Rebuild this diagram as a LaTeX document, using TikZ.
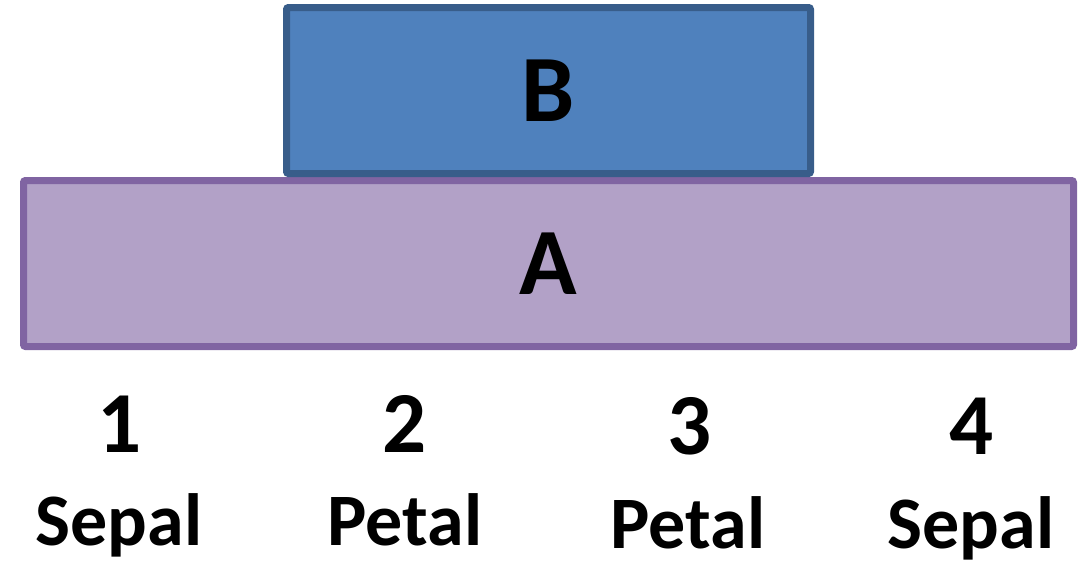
\documentclass[tikz,border=0pt]{standalone}
\usepackage{fontspec}
\setmainfont{Carlito}
\definecolor{bfill}{HTML}{4F81BD}
\definecolor{bdraw}{HTML}{385D8A}
\definecolor{afill}{HTML}{B2A1C7}
\definecolor{adraw}{HTML}{8064A2}
\tikzset{
  layer/.style={inner sep=0pt, outer sep=0pt, line width=7pt, rounded corners=2pt,
    font=\bfseries\fontsize{95}{95}\selectfont},
  numlbl/.style={anchor=base, inner sep=0pt, font=\bfseries\fontsize{87}{87}\selectfont},
  namelbl/.style={anchor=base, inner sep=0pt, font=\bfseries\fontsize{74}{74}\selectfont}
}
\begin{document}
\begin{tikzpicture}[x=1pt,y=-1pt]
\useasboundingbox (0,0) rectangle (1086,565);
\node[layer, draw=adraw, fill=afill, minimum width=1050pt, minimum height=166pt] (A) at (548.5,263.5) {A};
\node[layer, draw=bdraw, fill=bfill, minimum width=524pt, minimum height=166pt] (B) at (548.5,90.5) {B};
\node[numlbl] (n1) at (120,452) {1};
\node[numlbl] (n2) at (405,452) {2};
\node[numlbl] (n3) at (690,454) {3};
\node[numlbl] (n4) at (972,454) {4};
\node[namelbl] (s1) at (119,545) {Sepal};
\node[namelbl] (p2) at (405,545) {Petal};
\node[namelbl] (p3) at (688,548) {Petal};
\node[namelbl] (s4) at (971,548) {Sepal};
\end{tikzpicture}
\end{document}
